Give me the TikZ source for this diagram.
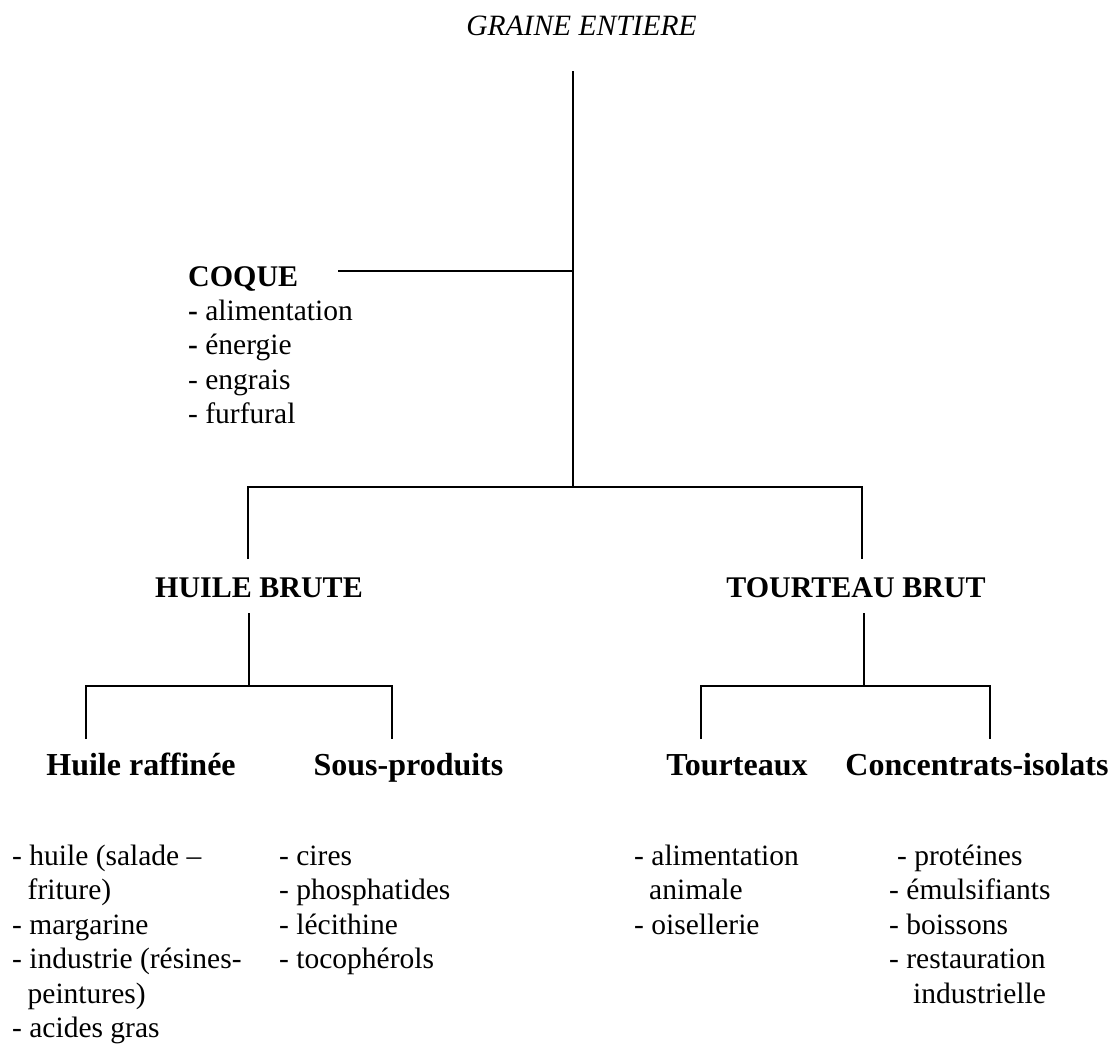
\documentclass[tikz,border=0pt]{standalone}
\usepackage{fontspec}
\setmainfont{Liberation Serif}
\begin{document}
\begin{tikzpicture}[x=1pt,y=-1pt,
  link/.style={draw=black,line width=1.3pt},
  body/.style={inner sep=0pt,font=\fontsize{29.5}{34.5}\selectfont,align=left,anchor=base west},
  head/.style={inner sep=0pt,font=\fontsize{30}{34.5}\selectfont\bfseries,anchor=base},
  subhead/.style={inner sep=0pt,font=\fontsize{32}{36}\selectfont\bfseries,anchor=base}]
\useasboundingbox (0,0) rectangle (1109,1044);
% titles (multi-line nodes are placed by the baseline of their last line)
\node[inner sep=0pt,font=\fontsize{29.5}{34.5}\selectfont\itshape,anchor=base] (graine) at (581.5,35) {GRAINE ENTIERE};
\node[head,anchor=base west] (coque) at (188,286) {COQUE};
\node[body] (coquelist) at (188,423.5) {\textbf{-} alimentation\\\textbf{-} énergie\\- engrais\\- furfural};
\node[head] (hb) at (259,597) {HUILE BRUTE};
\node[head] (tb) at (856,597) {TOURTEAU BRUT};
\node[subhead] (hr) at (141,775) {Huile raffinée};
\node[subhead] (sp) at (408.5,775) {Sous-produits};
\node[subhead] (to) at (737,775) {Tourteaux};
\node[subhead] (ci) at (977,775) {Concentrats-isolats};
% lists
\node[body] (hrlist) at (12,1037.5) {- huile (salade –\\\hspace{15.5pt}friture)\\- margarine\\- industrie (résines-\\\hspace{15.5pt}peintures)\\- acides gras};
\node[body] (splist) at (279,968.5) {- cires\\- phosphatides\\- lécithine\\- tocophérols};
\node[body] (tolist) at (634,934) {- alimentation\\\hspace{15pt}animale\\- oisellerie};
\node[body] (cilist) at (889,1003) {\hspace{8pt}- protéines\\- émulsifiants\\- boissons\\- restauration\\\hspace{24pt}industrielle};
% junction coordinates
\coordinate (top) at (573,71);
\coordinate (jcoque) at (573,271);
\coordinate (coqueend) at (338,271);
\coordinate (jmain) at (573,487);
\coordinate (lmain) at (248,487);
\coordinate (rmain) at (862,487);
\coordinate (lmaindown) at (248,559);
\coordinate (rmaindown) at (862,559);
\coordinate (hbtop) at (249,613);
\coordinate (hbj) at (249,686);
\coordinate (hbl) at (86,686);
\coordinate (hbr) at (392,686);
\coordinate (hbld) at (86,739);
\coordinate (hbrd) at (392,739);
\coordinate (tbtop) at (864,613);
\coordinate (tbj) at (864,686);
\coordinate (tbl) at (701,686);
\coordinate (tbr) at (990,686);
\coordinate (tbld) at (701,739);
\coordinate (tbrd) at (990,739);
% connectors
\draw[link] (top) -- (jmain);
\draw[link] (coqueend) -- (jcoque);
\draw[link] (lmaindown) -- (lmain) -- (rmain) -- (rmaindown);
\draw[link] (hbtop) -- (hbj);
\draw[link] (hbld) -- (hbl) -- (hbr) -- (hbrd);
\draw[link] (tbtop) -- (tbj);
\draw[link] (tbld) -- (tbl) -- (tbr) -- (tbrd);
\end{tikzpicture}
\end{document}
